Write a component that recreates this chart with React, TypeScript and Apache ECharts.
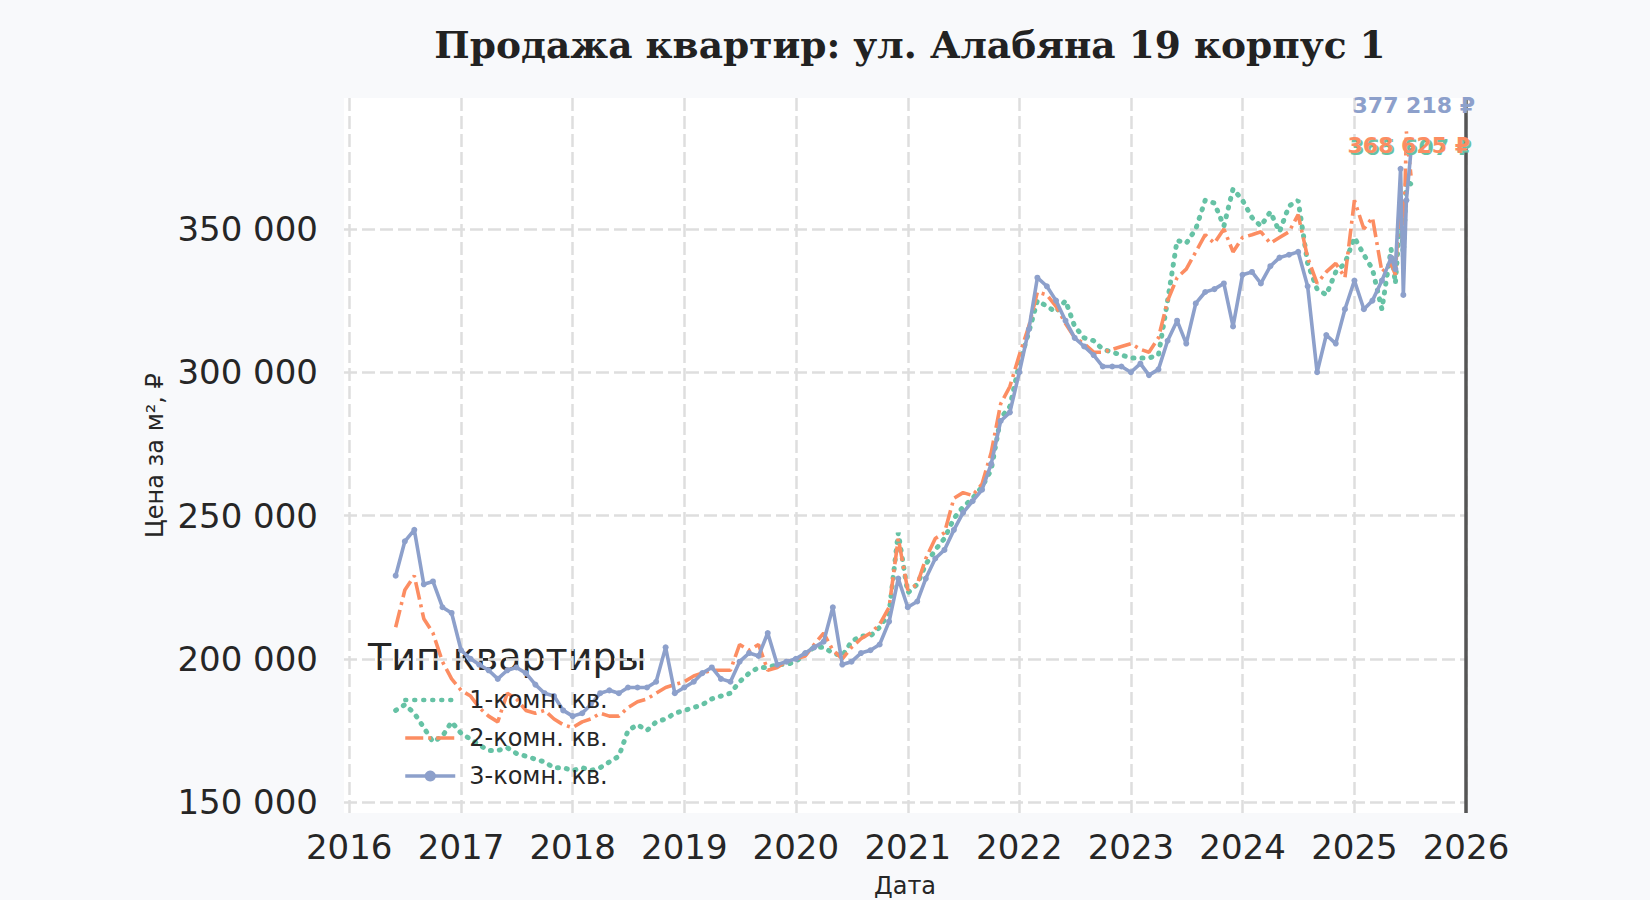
import React, { useEffect, useRef } from 'react';
import * as echarts from 'echarts';

// Месячные точки (в конце — несколько промежуточных дат)
const dates = [
  '2016-06-01', '2016-07-01', '2016-08-01', '2016-09-01', '2016-10-01', '2016-11-01', '2016-12-01',
  '2017-01-01', '2017-02-01', '2017-03-01', '2017-04-01', '2017-05-01', '2017-06-01', '2017-07-01', '2017-08-01', '2017-09-01', '2017-10-01', '2017-11-01', '2017-12-01',
  '2018-01-01', '2018-02-01', '2018-03-01', '2018-04-01', '2018-05-01', '2018-06-01', '2018-07-01', '2018-08-01', '2018-09-01', '2018-10-01', '2018-11-01', '2018-12-01',
  '2019-01-01', '2019-02-01', '2019-03-01', '2019-04-01', '2019-05-01', '2019-06-01', '2019-07-01', '2019-08-01', '2019-09-01', '2019-10-01', '2019-11-01', '2019-12-01',
  '2020-01-01', '2020-02-01', '2020-03-01', '2020-04-01', '2020-05-01', '2020-06-01', '2020-07-01', '2020-08-01', '2020-09-01', '2020-10-01', '2020-11-01', '2020-12-01',
  '2021-01-01', '2021-02-01', '2021-03-01', '2021-04-01', '2021-05-01', '2021-06-01', '2021-07-01', '2021-08-01', '2021-09-01', '2021-10-01', '2021-11-01', '2021-12-01',
  '2022-01-01', '2022-02-01', '2022-03-01', '2022-04-01', '2022-05-01', '2022-06-01', '2022-07-01', '2022-08-01', '2022-09-01', '2022-10-01', '2022-11-01', '2022-12-01',
  '2023-01-01', '2023-02-01', '2023-03-01', '2023-04-01', '2023-05-01', '2023-06-01', '2023-07-01', '2023-08-01', '2023-09-01', '2023-10-01', '2023-11-01', '2023-12-01',
  '2024-01-01', '2024-02-01', '2024-03-01', '2024-04-01', '2024-05-01', '2024-06-01', '2024-07-01', '2024-08-01', '2024-09-01', '2024-10-01', '2024-11-01', '2024-12-01',
  '2025-01-01', '2025-02-01', '2025-03-01', '2025-04-01', '2025-05-01',
  '2025-05-15', '2025-06-01', '2025-06-10', '2025-06-20', '2025-07-05',
];

// цена за м², тыс. ₽
const oneRoom = [
  182, 184, 181, 176, 171, 173, 178,
  174, 172, 170, 168, 168, 169, 167, 166, 165, 164, 162, 162,
  161, 162, 161, 162, 164, 166, 175, 177, 175, 178, 179, 181,
  182, 183, 184, 186, 187, 188, 192, 195, 197, 197, 198, 198,
  199, 202, 204, 204, 202, 201, 206, 208, 208, 211, 216, 244,
  223, 226, 233, 238, 242, 249, 253, 256, 260, 266, 284, 288,
  303, 314, 325, 323, 321, 325, 316, 312, 311, 308, 307, 306,
  305, 305, 305, 306, 325, 346, 345, 350, 360, 359, 351, 364,
  360, 354, 351, 356, 349, 358, 360, 338, 329, 327, 335, 338,
  347, 341, 336, 322, 343,
  331, 356, 340, 367, 365.607,
];

const twoRoom = [
  211, 224, 229, 214, 209, 199, 193,
  189, 187, 183, 180, 178, 188, 186, 182, 181, 182, 179, 177,
  176, 178, 179, 181, 180, 180, 183, 185, 186, 188, 190, 191,
  192, 194, 195, 196, 196, 196, 205, 203, 205, 196, 197, 199,
  200, 201, 205, 209, 203, 200, 204, 207, 209, 212, 218, 242,
  224, 226, 235, 242, 244, 256, 258, 257, 261, 272, 289, 295,
  306, 316, 328, 327, 323, 317, 312, 310, 307, 307, 308, 309,
  310, 308, 307, 312, 325, 333, 336, 342, 348, 345, 350, 342,
  347, 348, 349, 345, 347, 349, 355, 340, 331, 335, 338, 333,
  360, 350, 354, 335, 338,
  334, 365, 340, 384, 368.625,
];

const threeRoom = [
  229, 241, 245, 226, 227, 218, 216,
  203, 200, 198, 196, 193, 196, 197, 195, 191, 188, 187, 182,
  180, 181, 184, 188, 189, 188, 190, 190, 190, 192, 204, 188,
  190, 192, 195, 197, 193, 192, 199, 202, 201, 209, 198, 199,
  200, 202, 204, 206, 218, 198, 199, 202, 203, 205, 213, 228,
  218, 220, 228, 235, 238, 245, 251, 255, 259, 268, 283, 286,
  300, 315, 333, 330, 325, 318, 312, 309, 306, 302, 302, 302,
  300, 303, 299, 301, 311, 318, 310, 324, 328, 329, 331, 316,
  334, 335, 331, 337, 340, 341, 342, 330, 300, 313, 310, 322,
  332, 322, 325, 332, 340,
  336, 371, 327, 360, 377.218,
];

const seriesNames = ['1-комн. кв.', '2-комн. кв.', '3-комн. кв.'];
const lastLabels = ['365 607 ₽', '368 625 ₽', '377 218 ₽'];
const colors = ['#66c2a5', '#fc8d62', '#8da0cb'];

const fmt = (v: number) => String(v).replace(/\B(?=(\d{3})+(?!\d))/g, ' ');

const toPoints = (vals: number[]) => dates.map((d, i) => [d, Math.round(vals[i] * 1000)]);

export default function App() {
  const chartRef = useRef<HTMLDivElement>(null);

  useEffect(() => {
    const chart = echarts.init(chartRef.current!, null, { renderer: 'svg' });
    const font = 'DejaVu Sans';

    chart.setOption({
      animation: false,
      backgroundColor: '#f8f9fb',
      textStyle: { fontFamily: font },
      title: {
        text: 'Продажа квартир: ул. Алабяна 19 корпус 1',
        left: 905,
        top: 21,
        textAlign: 'center',
        textStyle: {
          fontFamily: 'DejaVu Serif',
          fontWeight: 'bold',
          fontSize: 37.5,
          color: '#222222',
        },
      },
      grid: {
        left: 344,
        right: 184,
        top: 98,
        bottom: 87,
        show: true,
        backgroundColor: '#ffffff',
        borderWidth: 0,
        outerBoundsMode: 'none',
        containLabel: false,
      },
      legend: {
        orient: 'vertical',
        left: 398,
        top: 683,
        itemWidth: 50,
        itemHeight: 14,
        itemGap: 14,
        selectedMode: false,
        data: seriesNames.map((name, i) => ({
          name,
          itemStyle: i < 2 ? { opacity: 0 } : undefined,
          lineStyle: { width: i === 0 ? 4.5 : 3.5 },
        })),
        textStyle: { fontSize: 24, color: '#262626', padding: [0, 0, 0, 9] },
      },
      graphic: [
        {
          type: 'text',
          left: 368,
          top: 659 - 21,
          style: { text: 'Тип квартиры', fontSize: 38, fill: '#262626', fontFamily: font },
        },
        ...[0, 1, 2].map((i) => ({
          type: 'text',
          z: 10 + i,
          x: [1472, 1470, 1475][i],
          y: [147, 145, 105][i],
          style: {
            text: lastLabels[i],
            fill: colors[i],
            fontSize: 22,
            fontWeight: 'bold',
            fontFamily: font,
            textAlign: 'right',
            textVerticalAlign: 'middle',
          },
        })),
      ],
      xAxis: {
        type: 'time',
        min: '2015-12-15',
        max: '2026-01-01',
        splitNumber: 10,
        minInterval: 365 * 24 * 3600 * 1000,
        maxInterval: 366 * 24 * 3600 * 1000,
        name: 'Дата',
        nameLocation: 'middle',
        nameGap: 61,
        nameTextStyle: { fontSize: 24, color: '#262626' },
        axisLine: { show: false },
        axisTick: { show: false },
        axisLabel: {
          fontSize: 34,
          color: '#262626',
          margin: 17,
          showMinLabel: false,
          showMaxLabel: true,
          hideOverlap: false,
          formatter: (v: number) => String(new Date(v).getFullYear()),
        },
        splitLine: {
          show: true,
          showMinLine: false,
          lineStyle: { color: '#dedede', width: 2.5, type: [13, 5] },
        },
      },
      yAxis: {
        type: 'value',
        min: 146200,
        max: 395700,
        name: 'Цена за м², ₽',
        nameLocation: 'middle',
        nameRotate: 90,
        nameGap: 176,
        nameTextStyle: { fontSize: 24, color: '#262626' },
        axisLine: { show: false },
        axisTick: { show: false },
        axisLabel: {
          fontSize: 34,
          color: '#262626',
          margin: 26,
          showMinLabel: false,
          showMaxLabel: false,
          formatter: (v: number) => fmt(v),
        },
        splitLine: {
          show: true,
          showMinLine: false,
          showMaxLine: false,
          lineStyle: { color: '#dedede', width: 2.5, type: [13, 5] },
        },
      },
      series: [
        {
          name: seriesNames[0],
          type: 'line',
          data: toPoints(oneRoom),
          symbol: 'none',
          color: colors[0],
          lineStyle: { width: 5, type: [1, 8], cap: 'round', color: colors[0] },
        },
        {
          name: seriesNames[1],
          type: 'line',
          data: toPoints(twoRoom),
          symbol: 'none',
          color: colors[1],
          lineStyle: { width: 3.6, type: [18, 5, 3, 5], color: colors[1] },
        },
        {
          name: seriesNames[2],
          type: 'line',
          data: toPoints(threeRoom),
          symbol: 'circle',
          symbolSize: 6,
          showSymbol: true,
          color: colors[2],
          itemStyle: { color: colors[2] },
          lineStyle: { width: 3.6, color: colors[2] },
          markLine: {
            silent: true,
            symbol: 'none',
            label: { show: false },
            lineStyle: { color: '#555555', width: 3.5, type: 'solid' },
            data: [{ xAxis: '2026-01-01' }],
          },
        },
      ],
    });

    return () => {
      chart.dispose();
    };
  }, []);

  return (
    <div
      ref={chartRef}
      style={{ position: 'fixed', left: 0, top: 0, width: 1650, height: 900 }}
    />
  );
}
